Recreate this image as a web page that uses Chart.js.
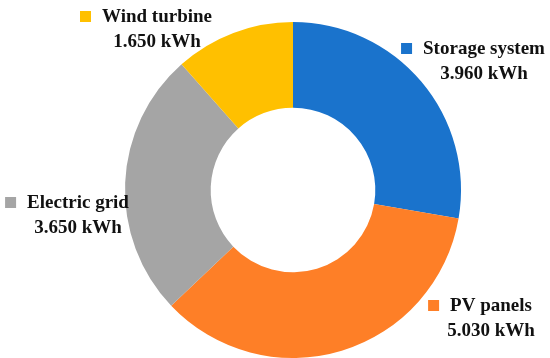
<!DOCTYPE html>
<html>
<head>
<meta charset="utf-8">
<script src="https://cdn.jsdelivr.net/npm/chart.js@4"></script>
<style>
  html, body { margin: 0; padding: 0; background: #fff; }
  #wrap { width: 550px; height: 358px; position: relative; }
</style>
</head>
<body>
<div id="wrap"><canvas id="energyChart"></canvas></div>
<script>
// energy sources, kWh
var sourceLabels = ['Storage system', 'PV panels', 'Electric grid', 'Wind turbine'];
var sourceValues = [3.960, 5.030, 3.650, 1.650];
var valueLabels = ['3.960 kWh', '5.030 kWh', '3.650 kWh', '1.650 kWh'];
var sourceColors = ['#1a73cc', '#fe7f27', '#a5a5a5', '#ffc000'];

// where each callout goes (centre x of name text, middle of first line)
var calloutPos = [[484, 49], [491, 306], [78, 203], [157, 17]];

var calloutPlugin = {
    id: 'callouts',
    afterDraw: function (chart) {
        var ctx = chart.ctx;
        ctx.save();
        ctx.font = 'bold 19px "Liberation Serif", "Times New Roman", serif';
        ctx.textBaseline = 'middle';
        ctx.textAlign = 'center';
        for (var i = 0; i < sourceLabels.length; i++) {
            var cx = calloutPos[i][0], cy = calloutPos[i][1];
            var w = ctx.measureText(sourceLabels[i]).width;
            // coloured square
            ctx.fillStyle = sourceColors[i];
            ctx.fillRect(cx - w / 2 - 22, cy - 6, 11, 11);
            ctx.fillStyle = '#111';
            ctx.fillText(sourceLabels[i], cx, cy);
            ctx.fillText(valueLabels[i], cx, cy + 25);
        }
        ctx.restore();
    }
};

var ctx = document.getElementById('energyChart');
var energyChart = new Chart(ctx, {
    type: 'doughnut',
    data: {
        labels: sourceLabels,
        datasets: [{
            data: sourceValues,
            backgroundColor: sourceColors,
            hoverBackgroundColor: sourceColors,
            borderWidth: 0
        }]
    },
    options: {
        responsive: true,
        maintainAspectRatio: false,
        animation: false,
        cutout: '49%',
        layout: {
            padding: { left: 125, right: 89, top: 22, bottom: 0 }
        },
        plugins: {
            legend: { display: false },
            tooltip: { enabled: false }
        }
    },
    plugins: [calloutPlugin]
});
</script>
</body>
</html>
